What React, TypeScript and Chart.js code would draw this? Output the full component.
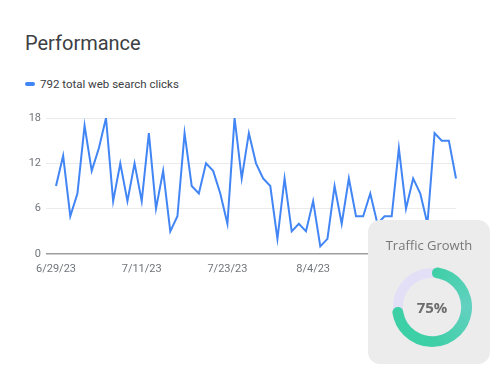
import React, { useEffect, useRef } from "react";
import { Chart, registerables } from "chart.js";

Chart.register(...registerables);

const dates: string[] = [
  "6/29/23", "6/30/23",
  "7/1/23", "7/2/23", "7/3/23", "7/4/23", "7/5/23", "7/6/23", "7/7/23", "7/8/23", "7/9/23", "7/10/23",
  "7/11/23", "7/12/23", "7/13/23", "7/14/23", "7/15/23", "7/16/23", "7/17/23", "7/18/23", "7/19/23", "7/20/23",
  "7/21/23", "7/22/23", "7/23/23", "7/24/23", "7/25/23", "7/26/23", "7/27/23", "7/28/23", "7/29/23", "7/30/23",
  "7/31/23",
  "8/1/23", "8/2/23", "8/3/23", "8/4/23", "8/5/23", "8/6/23", "8/7/23", "8/8/23", "8/9/23", "8/10/23",
  "8/11/23", "8/12/23", "8/13/23", "8/14/23", "8/15/23", "8/16/23", "8/17/23", "8/18/23", "8/19/23", "8/20/23",
  "8/21/23", "8/22/23", "8/23/23", "8/24/23",
];

const clicks: number[] = [
  9, 13, 5, 8, 17, 11, 14, 18, 7, 12,
  7, 12, 7, 16, 6, 11, 3, 5, 16, 9,
  8, 12, 11, 8, 4, 18, 10, 16, 12, 10,
  9, 2, 10, 3, 4, 3, 7, 1, 2, 9,
  4, 10, 5, 5, 8, 4, 5, 5, 14, 6,
  10, 8, 4, 16, 15, 15, 10,
];

const shownDateTicks: string[] = ["6/29/23", "7/11/23", "7/23/23", "8/4/23", "8/16/23"];
const yTicks: number[] = [0, 6, 12, 18];

const titleText = "Performance";
const legendText = "792 total web search clicks";
const cardTitle = "Traffic Growth";
const growthPercent: number[] = [75, 25];

const BLUE = "#4285f4";
const FONT = "Roboto, 'Noto Sans', sans-serif";

function LineChart() {
  const ref = useRef<HTMLCanvasElement | null>(null);
  useEffect(() => {
    if (!ref.current) return;
    const chart = new Chart(ref.current, {
      type: "line",
      data: {
        labels: dates,
        datasets: [
          {
            data: clicks,
            borderColor: BLUE,
            borderWidth: 2,
            pointRadius: 0,
            tension: 0,
            fill: false,
          },
        ],
      },
      options: {
        responsive: false,
        animation: false,
        devicePixelRatio: 1,
        layout: { padding: { left: 0, right: 35, top: 118, bottom: 0 } },
        plugins: { legend: { display: false }, tooltip: { enabled: false } },
        scales: {
          x: {
            type: "category",
            offset: false,
            grid: { display: false, drawTicks: false },
            border: { display: false },
            ticks: {
              autoSkip: false,
              maxRotation: 0,
              minRotation: 0,
              padding: 9,
              color: "#70757a",
              font: { family: FONT, size: 11 },
              callback: (_v: any, i: number) =>
                shownDateTicks.includes(dates[i]) ? dates[i] : "",
            },
            afterFit: (s: any) => {
              s.height = 112;
            },
          },
          y: {
            min: yTicks[0],
            max: yTicks[yTicks.length - 1],
            afterBuildTicks: (s: any) => {
              s.ticks = yTicks.map((v) => ({ value: v }));
            },
            grid: {
              drawTicks: true,
              tickLength: 10,
              color: (c: any) => (c.tick && c.tick.value === 0 ? "#9e9e9e" : "#ebebeb"),
              lineWidth: (c: any) => (c.tick && c.tick.value === 0 ? 1.5 : 1),
            },
            border: { display: false },
            ticks: {
              padding: 5,
              color: "#70757a",
              font: { family: FONT, size: 11 },
            },
            afterFit: (s: any) => {
              s.width = 56;
            },
          },
        },
      },
    });
    return () => chart.destroy();
  }, []);
  return (
    <canvas
      ref={ref}
      width={491}
      height={366}
      style={{ position: "absolute", left: 0, top: 0, width: 491, height: 366 }}
    />
  );
}

const trackPlugin = {
  id: "track",
  beforeDatasetsDraw(chart: any) {
    const meta = chart.getDatasetMeta(0);
    const arc = meta.data[0];
    if (!arc) return;
    const { x, y, innerRadius, outerRadius } = arc.getProps(
      ["x", "y", "innerRadius", "outerRadius"],
      true
    );
    const ctx = chart.ctx;
    ctx.save();
    ctx.beginPath();
    ctx.arc(x, y, outerRadius - 1, 0, Math.PI * 2);
    ctx.arc(x, y, innerRadius, Math.PI * 2, 0, true);
    ctx.closePath();
    ctx.fillStyle = "#e2dff6";
    ctx.fill();
    ctx.restore();
  },
};

function Donut() {
  const ref = useRef<HTMLCanvasElement | null>(null);
  useEffect(() => {
    if (!ref.current) return;
    const chart = new Chart(ref.current, {
      type: "doughnut",
      data: {
        labels: ["growth", "rest"],
        datasets: [
          {
            data: growthPercent,
            backgroundColor: (c: any) => {
              if (c.dataIndex !== 0) return "rgba(0,0,0,0)";
              const ch = c.chart;
              const ctx = ch.ctx as any;
              const a = ch.chartArea;
              if (!a || !ctx.createConicGradient) return "#40cfa9";
              const g = ctx.createConicGradient(
                -Math.PI / 2,
                (a.left + a.right) / 2,
                (a.top + a.bottom) / 2
              );
              g.addColorStop(0, "#3dcfa5");
              g.addColorStop(0.25, "#62d1c0");
              g.addColorStop(0.5, "#3dcfa5");
              g.addColorStop(1, "#3dcfa5");
              return g;
            },
            borderWidth: 0,
            borderRadius: (c: any) => (c.dataIndex === 0 ? 6 : 0),
          },
        ],
      },
      options: {
        responsive: false,
        animation: false,
        devicePixelRatio: 1,
        cutout: "73%",
        rotation: 0,
        layout: { padding: 0 },
        plugins: { legend: { display: false }, tooltip: { enabled: false } },
      },
      plugins: [trackPlugin],
    });
    return () => chart.destroy();
  }, []);
  return (
    <canvas
      ref={ref}
      width={80}
      height={80}
      style={{ position: "absolute", left: 24, top: 47, width: 80, height: 80 }}
    />
  );
}

export default function App() {
  return (
    <div
      style={{
        position: "absolute",
        left: 0,
        top: 0,
        width: 491,
        height: 366,
        background: "#ffffff",
        overflow: "hidden",
        fontFamily: FONT,
      }}
    >
      <div
        style={{
          position: "absolute",
          left: 25,
          top: 33,
          fontSize: 20,
          lineHeight: "20px",
          color: "#3c4043",
          whiteSpace: "nowrap",
        }}
      >
        {titleText}
      </div>
      <div
        style={{
          position: "absolute",
          left: 25,
          top: 82,
          width: 10,
          height: 4,
          borderRadius: 2,
          background: BLUE,
        }}
      />
      <div
        style={{
          position: "absolute",
          left: 40,
          top: 77,
          fontSize: 11.5,
          lineHeight: "14px",
          color: "#3c4043",
          whiteSpace: "nowrap",
        }}
      >
        {legendText}
      </div>
      <LineChart />
      <div
        style={{
          position: "absolute",
          left: 368,
          top: 220,
          width: 122,
          height: 144,
          borderRadius: 12,
          background: "#ececec",
        }}
      >
        <div
          style={{
            position: "absolute",
            left: 0,
            width: 122,
            top: 17,
            textAlign: "center",
            fontFamily: "'Open Sans', sans-serif",
            fontSize: 13,
            lineHeight: "16px",
            color: "#777777",
            whiteSpace: "nowrap",
          }}
        >
          {cardTitle}
        </div>
        <Donut />
        <div
          style={{
            position: "absolute",
            left: 24,
            top: 77,
            width: 80,
            textAlign: "center",
            fontFamily: "'Open Sans', sans-serif",
            fontWeight: 700,
            fontSize: 15,
            lineHeight: "20px",
            color: "#6d6d6d",
          }}
        >
          {growthPercent[0]}%
        </div>
      </div>
    </div>
  );
}
